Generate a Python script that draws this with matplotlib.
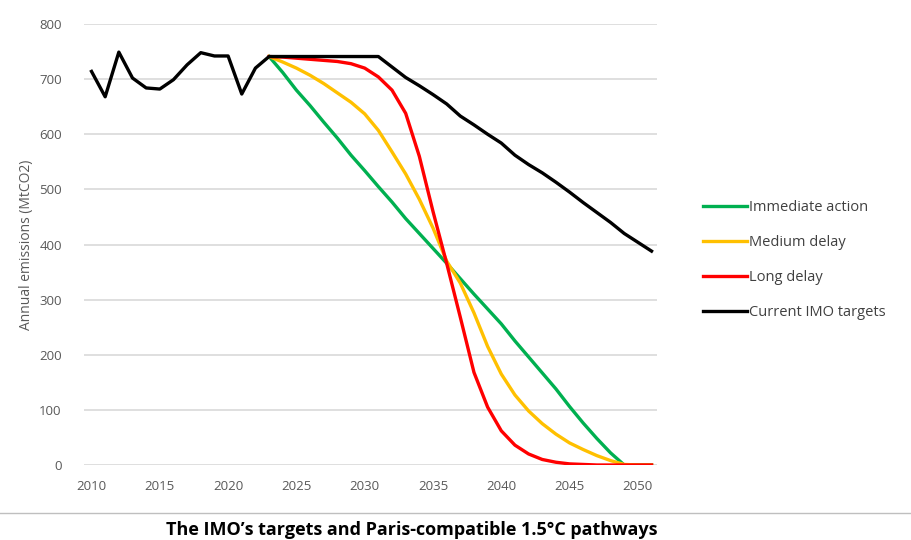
import matplotlib
matplotlib.use("Agg")
import matplotlib.pyplot as plt
from matplotlib.lines import Line2D

years = list(range(2010, 2052))

current_imo = [714, 668, 749, 702, 684, 682, 699, 726, 748, 742, 742, 673, 720, 741,
               741, 741, 741, 741, 741, 741, 741, 741,
               722, 703, 688, 672, 655, 633, 617, 600, 584, 562, 545, 530, 513, 495,
               476, 458, 440, 420, 404, 388]

path_years = list(range(2023, 2052))
immediate = [741, 712, 680, 652, 622, 593, 562, 534, 505, 477, 447, 420, 393, 366, 338,
             310, 283, 256, 225, 196, 167, 138, 106, 76, 48, 22, 0, 0, 0]
medium = [741, 731, 720, 707, 692, 675, 658, 637, 607, 568, 528, 482, 430, 370, 330,
          276, 215, 165, 127, 98, 75, 56, 40, 28, 17, 8, 1, 0, 0]
long_delay = [741, 740, 738, 736, 734, 732, 728, 720, 704, 680, 638, 560, 460, 366, 268,
              168, 105, 62, 36, 20, 10, 5, 2, 1, 0, 0, 0, 0, 0]

series_labels = ["Immediate action", "Medium delay", "Long delay", "Current IMO targets"]
colors = ["#00B050", "#FFC000", "#FF0000", "#000000"]

xticks = [2010, 2015, 2020, 2025, 2030, 2035, 2040, 2045, 2050]
yticks = [0, 100, 200, 300, 400, 500, 600, 700, 800]
title = "The IMO\u2019s targets and Paris-compatible 1.5\u00b0C pathways"

plt.rcParams['font.family'] = ['Open Sans', 'DejaVu Sans']

fig = plt.figure(figsize=(9.12, 5.4), dpi=100)
ax = fig.add_axes([84/912, 1-465/540, (657-84)/912, (465-24)/540])

lw = 2.4
ax.plot(path_years, immediate, color=colors[0], lw=lw, solid_joinstyle='round', zorder=3)
ax.plot(path_years, medium, color=colors[1], lw=lw, solid_joinstyle='round', zorder=4)
ax.plot(path_years, long_delay, color=colors[2], lw=lw, solid_joinstyle='round', zorder=5)
ax.plot(years, current_imo, color=colors[3], lw=lw, solid_joinstyle='round', zorder=6)

ax.set_xlim(2009.45, 2051.4)
ax.set_ylim(0, 800)
ax.set_xticks(xticks)
ax.set_yticks(yticks)
ax.tick_params(axis='both', length=0, labelsize=9.5, labelcolor='#595959')
ax.tick_params(axis='x', pad=11)
ax.tick_params(axis='y', pad=16)
ax.yaxis.grid(True, color='#d9d9d9', lw=1.2, zorder=0)
ax.set_axisbelow(True)
for s in ax.spines.values():
    s.set_visible(False)

ax.set_ylabel("Annual emissions (MtCO2)", fontsize=10, color='#595959', labelpad=4)

handles = [Line2D([0], [0], color=c, lw=lw) for c in colors]
fig.legend(handles, series_labels, loc='upper left', bbox_to_anchor=(690/912, 1-187/540),
           frameon=False, fontsize=10.5, handlelength=3.0, handletextpad=0.15,
           labelspacing=1.38, labelcolor='#404040')

fig.add_artist(Line2D([0, 1], [1-513/540, 1-513/540], color='#bfbfbf', lw=1,
                      transform=fig.transFigure))
fig.text(412/912, 1-530/540, title, ha='center', va='center', fontsize=13,
         fontweight='bold', color='#000000')

fig.savefig("out.png", dpi=100, facecolor='white')
